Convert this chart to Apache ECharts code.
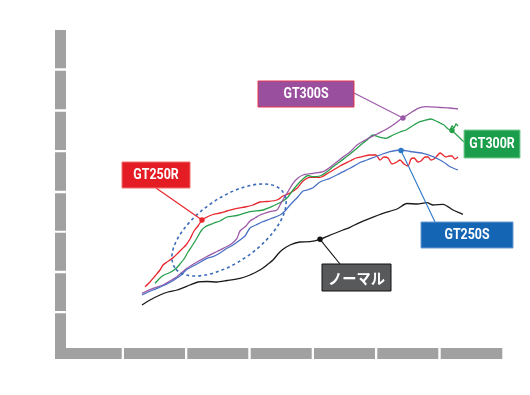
<!DOCTYPE html>
<html><head><meta charset="utf-8">
<script src="https://cdn.jsdelivr.net/npm/echarts@6/dist/echarts.min.js"></script>
<style>html,body{margin:0;padding:0;background:#fff}#c{width:530px;height:395px}</style>
</head><body><div id="c"></div>
<script>
// data units: x 0..442, y 0..322 (arbitrary, no tick labels in the original)
const normalData = [[82,47],[90,52],[100,57],[108,60],[117,62],[130,67],[138,70],[147,70.5],[157,70],[167,71.5],[180,73.7],[190,77],[198,81],[203,84],[208,88],[213,92],[218,98],[222,102],[230,107],[240,110],[250,110.3],[260,112.7],[273,118],[283,122],[290,124.7],[298,128.7],[310,133.7],[323,138.7],[337,143],[347,148.5],[357,148],[367,149.3],[373,147],[383,147.7],[393,142],[403,137.7]];
const gt250rData = [[85,65.3],[90,70],[95,76],[100,82],[103,87],[107,90],[110,92],[114,95],[118,99],[122,103],[126,107],[130,113],[134,121],[138,126],[142,132],[147,135],[153,137.5],[160,139],[167,141],[177,143.7],[185,145],[193,147],[200,150],[207,150.5],[217,152],[223,156],[230,159],[237,163.7],[243,171],[250,174.7],[260,174.7],[270,180],[280,186],[290,191],[296,194],[302,195.3],[310,197],[316,197],[320,192],[324,195],[328,194],[332,188],[337,190],[340,192],[344,188],[348,186],[351,193],[354,194],[358,190],[361,191],[365,195],[368,195],[371,192],[374,193],[377,196],[380,199],[383,197],[386,195],[389,196],[392,196],[395,193],[398,195]];
const gt300rData = [[95,68.7],[100,74],[104,77],[110,79.5],[116,83.5],[120,88],[124,93],[128,100],[132,106],[137,114],[141,121],[145,125],[153,128.5],[160,131],[167,135],[177,136.5],[190,140.3],[203,142],[213,146],[223,151],[228,155],[233,162],[238,168],[243,173],[248,176.5],[253,175.3],[260,176],[267,180.3],[273,185.3],[280,190.3],[286,195],[290,198],[297,203.7],[303,209],[307,212],[313,217],[318,215.3],[326,213.7],[333,217],[340,220],[346,222],[353,226.5],[360,230.3],[366,232],[371,233],[376,231],[380,229],[384,227],[387,224],[390,222],[392,226],[394,224],[396,228],[398,226]];
const gt300sData = [[82,58.7],[93,63.7],[103,67],[110,71],[117,75.3],[127,83.7],[137,90],[147,95.5],[157,100.5],[167,105.5],[172,108.5],[177,113.7],[180,121],[186,126],[190,131],[195,134],[200,137],[210,140.3],[217,142],[220,147],[224,154],[227,158.7],[233,168.7],[238,174],[243,177],[253,178.7],[263,180.3],[273,187],[283,195],[290,200],[297,207],[307,213],[317,218],[325,222],[333,227],[342,233.7],[350,238.7],[358,243.7],[366,245.3],[380,244.5],[390,244],[398,243]];
const gt250sData = [[82,57],[93,62],[107,68],[120,76],[127,82.7],[137,88],[147,93.7],[153,95.3],[160,99],[167,103.7],[173,107],[180,112],[185,116],[190,124],[196,127],[202,130],[210,133],[220,137],[225,141],[230,147],[238,155.3],[243,161],[247,162],[253,164.3],[260,170],[270,173.7],[280,178.7],[290,183.7],[300,189.5],[307,192],[320,197],[330,200.3],[340,202],[350,200.5],[363,198.7],[373,195.3],[383,190.3],[390,185.3],[398,182]];

const seriesNames = ['ノーマル','GT250R','GT300R','GT300S','GT250S'];
const seriesColors = ['#1a1a1a','#e8262c','#27a04c','#9c58a8','#4a73c6'];
// label anchor points on each curve (data units)
const anchorPoints = [[260,112.7],[142,132],[392,221.5],[343,234],[341,201.5]];
const ellipseCenter = [169,122];

const gray = '#a1a1a1';
const yBarDash = [45,2.3,37.7,2.6,38,2,37.4,2.6,38.4,2.3,38.3,2.4,38.6,2.4,60];
const xBarDash = [66.7,2.3,61,2.3,61,2.4,61,2.3,61,2.3,61,2.4,70];

const chart = echarts.init(document.getElementById('c'));
const hiddenAxis = (g)=>({type:'value',gridIndex:g,min:0,max:1,show:false});
const barAxis = (g,dash)=>({type:'value',gridIndex:g,min:0,max:1,
  axisLine:{show:true,onZero:false,lineStyle:{color:gray,width:11,type:dash,cap:'butt'}},
  axisTick:{show:false},axisLabel:{show:false},splitLine:{show:false}});

const allData = [normalData,gt250rData,gt300rData,gt300sData,gt250sData];
chart.setOption({
  animation:false,
  backgroundColor:'#fff',
  grid:[
    {left:60,right:28,top:30,bottom:43},
    {left:60.35,top:30,bottom:36.7,width:100},
    {left:55,right:27.7,top:100,bottom:42.2}
  ],
  xAxis:[
    {type:'value',gridIndex:0,min:0,max:442,show:false},
    hiddenAxis(1),
    barAxis(2,xBarDash)
  ],
  yAxis:[
    {type:'value',gridIndex:0,min:0,max:322,show:false},
    barAxis(1,yBarDash),
    hiddenAxis(2)
  ],
  series: allData.map((d,i)=>({
    name:seriesNames[i],type:'line',xAxisIndex:0,yAxisIndex:0,data:d,
    showSymbol:false,smooth:0.25,z:5,
    lineStyle:{color:seriesColors[i],width:1.3}
  }))
});

const px = (p)=>chart.convertToPixel({gridIndex:0},p);
const boxes = [
  {t:'ノーマル',x:322,y:264,w:69,h:27,fill:'#58595b',stroke:'#111',lead:[340,264],lc:'#111',cjk:true},
  {t:'GT250R',x:122,y:162,w:68,h:26,fill:'#e31d23',stroke:'#f07070',lead:[156,188],lc:'#e8262c'},
  {t:'GT300R',x:464,y:130,w:56,h:28,fill:'#1b9e4b',stroke:'#7fcf9a',lead:[464,142],lc:'#27a04c'},
  {t:'GT300S',x:258,y:81,w:96,h:26,fill:'#9a4f9e',stroke:'#e2384f',lead:[354,93],lc:'#9c58a8'},
  {t:'GT250S',x:421,y:222,w:92,h:26,fill:'#1565b5',stroke:'#6a9ad0',lead:[435,222],lc:'#2a78c8'}
];
const g = [];
const ec = px(ellipseCenter);
g.push({type:'ellipse',shape:{cx:0,cy:0,rx:66,ry:32},x:ec[0],y:ec[1],rotation:35*Math.PI/180,
  style:{fill:'none',stroke:'#3a6ab8',lineWidth:1.6,lineDash:[3,3]},z:10});
boxes.forEach((b,i)=>{
  const a = px(anchorPoints[i]);
  g.push({type:'line',shape:{x1:b.lead[0],y1:b.lead[1],x2:a[0],y2:a[1]},style:{stroke:b.lc,lineWidth:1.1},z:11});
  g.push({type:'circle',shape:{cx:a[0],cy:a[1],r:2.7},style:{fill:b.lc},z:12});
  g.push({type:'rect',shape:{x:b.x,y:b.y,width:b.w,height:b.h},style:{fill:b.fill,stroke:b.stroke,lineWidth:1},z:12});
  g.push({type:'text',x:b.x+b.w/2,y:b.y+b.h/2+0.5,scaleX:b.cjk?0.95:0.8,z:13,style:{text:b.t,fill:'#fff',align:'center',verticalAlign:'middle',
    fontSize:b.cjk?15:15.5,fontWeight:'bold',
    fontFamily:b.cjk?"'Noto Sans CJK JP', sans-serif":"'Roboto','Liberation Sans',sans-serif"}});
});
chart.setOption({graphic:g});
</script>
</body></html>
